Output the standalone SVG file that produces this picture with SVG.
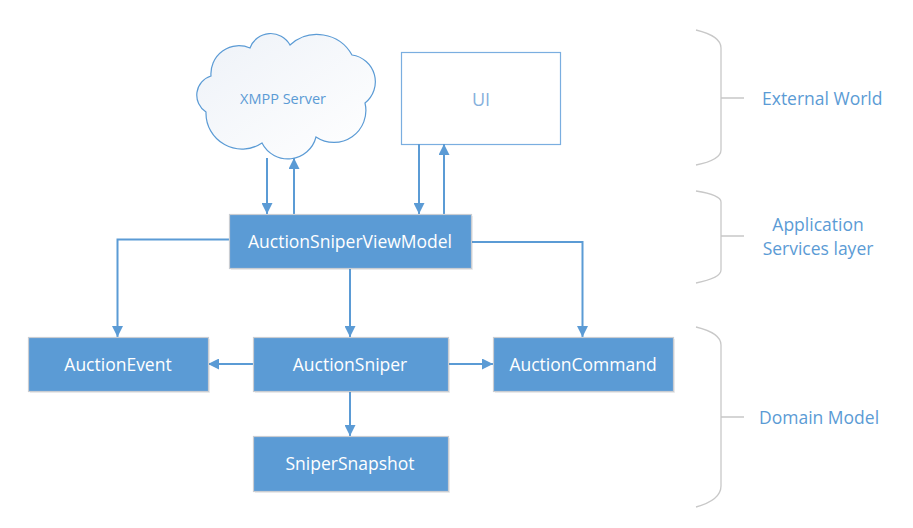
<svg xmlns="http://www.w3.org/2000/svg" width="913" height="528" viewBox="0 0 913 528">
<defs>
<style>
.box{fill:#5b9bd5;stroke:#c9cdd2;stroke-width:1.2}
.shadow{fill:#000;opacity:0.07}
.nt{font-family:"Open Sans","Noto Sans",sans-serif;font-size:17.5px;fill:#ffffff;text-anchor:middle;dominant-baseline:central}
.lt{font-family:"Open Sans","Noto Sans",sans-serif;font-size:17.5px;fill:#5b9bd5;dominant-baseline:central}
.ct{font-family:"Open Sans","Noto Sans",sans-serif;font-size:14.5px;fill:#5b9bd5;text-anchor:middle;dominant-baseline:central}
.con{fill:none;stroke:#5b9bd5;stroke-width:2;marker-end:url(#arr)}
.brace{fill:none;stroke:#c8c8c8;stroke-width:1.3}
</style>
<marker id="arr" viewBox="0 0 10 10" refX="10" refY="5" markerWidth="5.5" markerHeight="5.5" orient="auto" markerUnits="strokeWidth">
<path d="M0,0 L10,5 L0,10 z" fill="#5b9bd5"/>
</marker>
<linearGradient id="cg" x1="0" y1="0" x2="1" y2="1">
<stop offset="0" stop-color="#eef2f8"/>
<stop offset="1" stop-color="#ffffff"/>
</linearGradient>
</defs>
<rect width="913" height="528" fill="#ffffff"/>

<g id="xmpp">
<path d="M206,112 A20,20 0 0 1 211,76 A28,28 0 0 1 250,48 A22,22 0 0 1 290,45 A40,40 0 0 1 352,55 A27,27 0 0 1 365,103 A32,32 0 0 1 316,137 A29,29 0 0 1 262,143 A36,36 0 0 1 206,112 Z" fill="url(#cg)" stroke="#5b9bd5" stroke-width="1.2"/>
<text class="ct" x="283" y="98">XMPP Server</text>
</g>

<g id="ui">
<rect x="401.5" y="52.5" width="159" height="92" fill="#ffffff" stroke="#7aaee0" stroke-width="1.2"/>
<text class="ct" x="481" y="99" style="font-size:18px;fill:#86b0dc">UI</text>
</g>

<g id="connectors">
<path class="con" d="M267,158 V214"/>
<path class="con" d="M294,214 V158"/>
<path class="con" d="M419,144 V214"/>
<path class="con" d="M444,214 V144"/>
<path class="con" d="M229,239.5 H117.5 V337"/>
<path class="con" d="M471,242 H582.5 V337"/>
<path class="con" d="M350,268 V337"/>
<path class="con" d="M253,364 H208"/>
<path class="con" d="M448,364 H493"/>
<path class="con" d="M350,391 V436"/>
</g>

<g id="viewmodel">
<rect class="shadow" x="231" y="216" width="242" height="54"/>
<rect class="box" x="229.5" y="214.5" width="242" height="54"/>
<text class="nt" x="350" y="241">AuctionSniperViewModel</text>
</g>
<g id="auctionevent">
<rect class="shadow" x="30" y="339" width="180" height="54"/>
<rect class="box" x="28.5" y="337.5" width="180" height="54"/>
<text class="nt" x="118" y="364">AuctionEvent</text>
</g>
<g id="auctionsniper">
<rect class="shadow" x="255" y="339" width="195" height="54"/>
<rect class="box" x="253.5" y="337.5" width="195" height="54"/>
<text class="nt" x="350" y="364">AuctionSniper</text>
</g>
<g id="auctioncommand">
<rect class="shadow" x="495" y="339" width="180" height="54"/>
<rect class="box" x="493.5" y="337.5" width="180" height="54"/>
<text class="nt" x="583" y="364">AuctionCommand</text>
</g>
<g id="snipersnapshot">
<rect class="shadow" x="255" y="438" width="195" height="55"/>
<rect class="box" x="253.5" y="436.5" width="195" height="55"/>
<text class="nt" x="350" y="463">SniperSnapshot</text>
</g>

<g id="external-world">
<path class="brace" d="M696,30 Q721,36 721,48 V150 Q721,160 696,165 M721,98 H744"/>
<text class="lt" x="762" y="98">External World</text>
</g>
<g id="app-services">
<path class="brace" d="M696,191 Q721,195 721,202 V270 Q721,278 696,283 M721,236 H744"/>
<text class="lt" x="818" y="224" text-anchor="middle">Application</text>
<text class="lt" x="818" y="248" text-anchor="middle">Services layer</text>
</g>
<g id="domain-model">
<path class="brace" d="M696,327 Q721,333 721,345 V486 Q721,500 696,507 M721,417 H744"/>
<text class="lt" x="759" y="417">Domain Model</text>
</g>
</svg>
